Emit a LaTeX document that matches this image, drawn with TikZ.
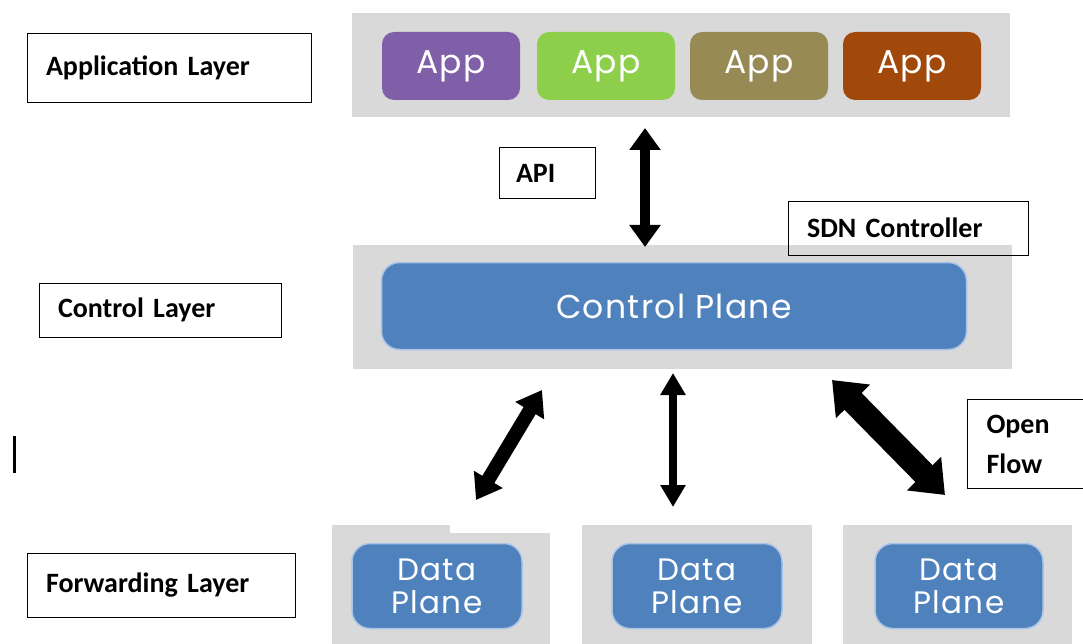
\documentclass[tikz,border=0pt]{standalone}
\usepackage{fontspec}
\setmainfont{Carlito}
\newfontfamily\planefont[LetterSpace=4]{Poppins}
\usetikzlibrary{arrows.meta}

\definecolor{layergray}{HTML}{D9D9D9}
\definecolor{apppurple}{HTML}{7F5FA8}
\definecolor{appgreen}{HTML}{8DCF4A}
\definecolor{appolive}{HTML}{988A55}
\definecolor{appbrown}{HTML}{A0490B}
\definecolor{planeblue}{HTML}{4F81BD}
\definecolor{planeedge}{HTML}{A9C4E6}

\begin{document}
\begin{tikzpicture}[x=1pt, y=-1pt,
    layerbg/.style={rectangle, fill=layergray, inner sep=0pt},
    appbox/.style={rectangle, rounded corners=12pt, fill=#1, text=white, minimum width=138pt, minimum height=68pt, font=\planefont\fontsize{33}{36}\selectfont},
    planebox/.style={rectangle, rounded corners=18pt, fill=planeblue, draw=planeedge, line width=1.5pt, text=white, align=center, inner sep=0pt},
    labelbox/.style={rectangle, draw, thick, align=left, inner xsep=19pt, font=\fontsize{28}{40}\selectfont\bfseries},
    duplex/.style n args={3}{line width=#1, {Triangle[width=#2, length=#3]}-{Triangle[width=#2, length=#3]}}]

        \clip (0, 0) rectangle (1083, 644);

        % application layer
        \node[layerbg, minimum width=658pt, minimum height=104pt] at (681, 65) (appbg) {};
        \node[appbox=apppurple] at (451, 66) (app1) {App};
        \node[appbox=appgreen] at (606, 66) (app2) {App};
        \node[appbox=appolive] at (759, 66) (app3) {App};
        \node[appbox=appbrown] at (912, 66) (app4) {App};

        % control layer
        \node[layerbg, minimum width=659pt, minimum height=124pt] at (682, 307) (ctrlbg) {};
        \node[planebox, minimum width=585pt, minimum height=87pt, font=\planefont\fontsize{33}{36}\selectfont] at (674, 306) (ctrlplane) {Control Plane};

        % forwarding layer
        \node[layerbg, minimum width=218pt, minimum height=125pt] at (441, 587) (databg1) {};
        \fill[white] (450, 523) rectangle (551, 533);
        \node[layerbg, minimum width=230pt, minimum height=125pt] at (697, 587) (databg2) {};
        \node[layerbg, minimum width=229pt, minimum height=125pt] at (957, 587) (databg3) {};
        \node[planebox, minimum width=170pt, minimum height=85pt, font=\planefont\fontsize{31}{33}\selectfont] at (437, 586) (data1) {Data\\Plane};
        \node[planebox, minimum width=170pt, minimum height=85pt, font=\planefont\fontsize{31}{33}\selectfont] at (697, 586) (data2) {Data\\Plane};
        \node[planebox, minimum width=168pt, minimum height=85pt, font=\planefont\fontsize{31}{33}\selectfont] at (959, 586) (data3) {Data\\Plane};

        % labels
        \node[labelbox, text width=246pt, minimum height=69pt] at (169, 68) (applabel) {Application Layer};
        \node[labelbox, text width=204pt, minimum height=54pt] at (160, 310) (ctrllabel) {Control Layer};
        \node[labelbox, text width=230pt, minimum height=64pt] at (161, 585) (fwdlabel) {Forwarding Layer};
        \node[labelbox, text width=62pt, minimum height=51pt, inner xsep=17pt] at (547, 173) (api) {API};
        \node[labelbox, text width=202pt, minimum height=54pt] at (908, 228) (sdn) {SDN Controller};
        \node[labelbox, text width=89pt, minimum height=89pt] at (1031, 444) (openflow) {Open\\Flow};

        % arrow ends
        \coordinate (apitop) at (645, 128);
        \coordinate (apibot) at (645, 247);
        \coordinate (leftup) at (542, 390);
        \coordinate (leftdown) at (476, 500);
        \coordinate (midup) at (673, 373);
        \coordinate (middown) at (673, 507);
        \coordinate (rightup) at (832, 380);
        \coordinate (rightdown) at (945, 495);

        \draw[duplex={10pt}{30pt}{22pt}] (apitop) -- (apibot);
        \draw[duplex={14pt}{32pt}{24pt}] (leftdown) -- (leftup);
        \draw[duplex={8pt}{24pt}{22pt}] (midup) -- (middown);
        \draw[duplex={24pt}{46pt}{30pt}] (rightup) -- (rightdown);

        \draw[line width=3pt] (14, 436) -- (14, 473);
\end{tikzpicture}
\end{document}
